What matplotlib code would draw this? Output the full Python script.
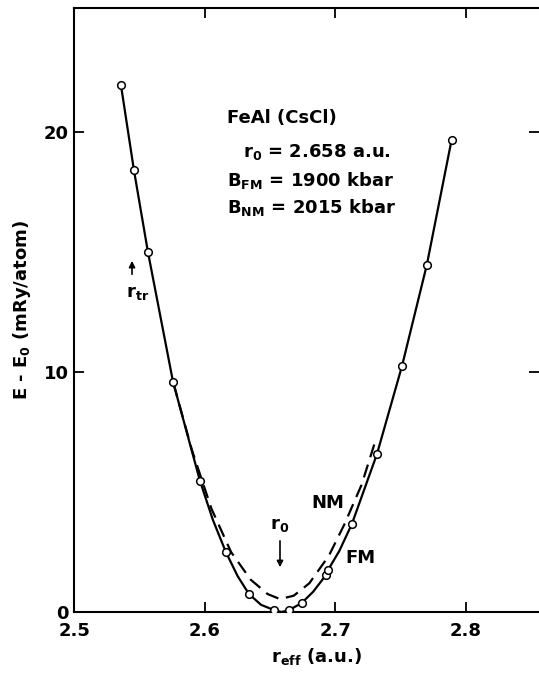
import matplotlib
matplotlib.use("Agg")
import matplotlib.pyplot as plt

# FM total energies (open circles), r_eff in a.u., E-E0 in mRy/atom
fm_x = [2.5356, 2.5456, 2.5563, 2.5755, 2.5962, 2.616, 2.6337, 2.653, 2.6644,
        2.674, 2.6927, 2.6943, 2.7126, 2.7318, 2.751, 2.770, 2.789]
fm_y = [21.96, 18.4, 15.0, 9.6, 5.46, 2.5, 0.75, 0.08, 0.08,
        0.37, 1.54, 1.75, 3.67, 6.58, 10.25, 14.46, 19.67]

# FM solid curve
fm_line_x = [2.5356, 2.5456, 2.5563, 2.5755, 2.5962, 2.606, 2.616, 2.625, 2.6337,
             2.643, 2.653, 2.6587, 2.6644, 2.674, 2.683, 2.6927, 2.6943, 2.703,
             2.7126, 2.7318, 2.751, 2.770, 2.789]
fm_line_y = [21.96, 18.4, 15.0, 9.6, 5.46, 3.85, 2.5, 1.5, 0.75,
             0.3, 0.08, 0.0, 0.08, 0.37, 0.85, 1.54, 1.75, 2.55,
             3.67, 6.58, 10.25, 14.46, 19.67]

# NM dashed curve
nm_x = [2.576, 2.59, 2.605, 2.62, 2.635, 2.648, 2.6575, 2.668, 2.68, 2.695, 2.707, 2.72, 2.731]
nm_y = [9.5, 6.75, 4.3, 2.5, 1.35, 0.75, 0.54, 0.68, 1.2, 2.35, 3.67, 5.3, 7.2]

xticks = [2.5, 2.6, 2.7, 2.8]
xtick_labels = ["2.5", "2.6", "2.7", "2.8"]
yticks = [0, 10, 20]
ytick_labels = ["0", "10", "20"]

plt.rcParams['font.family'] = ['DejaVu Sans']
plt.rcParams['font.weight'] = 'bold'
plt.rcParams['mathtext.default'] = 'bf'

fig = plt.figure(figsize=(5.39, 6.73), dpi=100)
ax = fig.add_axes([0.1382, 0.0906, 0.8618, 0.8975])

ax.plot(fm_line_x, fm_line_y, color='black', lw=1.6, solid_capstyle='round')
ax.plot(nm_x, nm_y, color='black', lw=1.6, dashes=(6, 3.5))
ax.plot(fm_x, fm_y, 'o', ms=5.5, mfc='white', mec='black', mew=1.1, zorder=3)

ax.set_xlim(2.5, 2.856)
ax.set_ylim(0, 25.17)
ax.set_xticks(xticks)
ax.set_xticklabels(xtick_labels)
ax.set_yticks(yticks)
ax.set_yticklabels(ytick_labels)
ax.tick_params(direction='in', length=7, width=1.3, top=True, right=True,
               labelsize=13)
ax.tick_params(axis='x', pad=7)
ax.tick_params(axis='y', pad=4)
for s in ['left', 'bottom', 'top']:
    ax.spines[s].set_linewidth(1.5)
ax.spines['right'].set_visible(False)

# axis labels
ax.text(0.522, -0.074, r'r$_{\mathbf{eff}}$ (a.u.)', transform=ax.transAxes,
        ha='center', va='center', fontsize=13, fontweight='bold')
ax.text(-0.113, 0.5, r'E - E$_{\mathbf{0}}$ (mRy/atom)', transform=ax.transAxes,
        ha='center', va='center', rotation=90, fontsize=13, fontweight='bold')

# annotation block
ax.text(2.6169, 20.6, 'FeAl (CsCl)', ha='left', va='center', fontsize=13, fontweight='bold')
ax.text(2.6291, 19.17, r'r$_{\mathbf{0}}$ = 2.658 a.u.', ha='left', va='center',
        fontsize=13, fontweight='bold')
ax.text(2.6169, 18.0, r'B$_{\mathbf{FM}}$ = 1900 kbar', ha='left', va='center',
        fontsize=13, fontweight='bold')
ax.text(2.6169, 16.875, r'B$_{\mathbf{NM}}$ = 2015 kbar', ha='left', va='center',
        fontsize=13, fontweight='bold')

# r_tr arrow
ax.annotate('', xy=(2.5441, 14.75), xytext=(2.5441, 13.96),
            arrowprops=dict(arrowstyle='-|>', color='black', lw=1.2, mutation_scale=9))
ax.text(2.548, 13.29, r'r$_{\mathbf{tr}}$', ha='center', va='center', fontsize=13, fontweight='bold')

# r0 arrow
ax.annotate('', xy=(2.6575, 1.75), xytext=(2.6575, 3.08),
            arrowprops=dict(arrowstyle='-|>', color='black', lw=1.2, mutation_scale=9))
ax.text(2.6575, 3.62, r'r$_{\mathbf{0}}$', ha='center', va='center', fontsize=13, fontweight='bold')

ax.text(2.6943, 4.54, 'NM', ha='center', va='center', fontsize=13, fontweight='bold')
ax.text(2.7188, 2.25, 'FM', ha='center', va='center', fontsize=13, fontweight='bold')

fig.savefig('out.png', dpi=100)
